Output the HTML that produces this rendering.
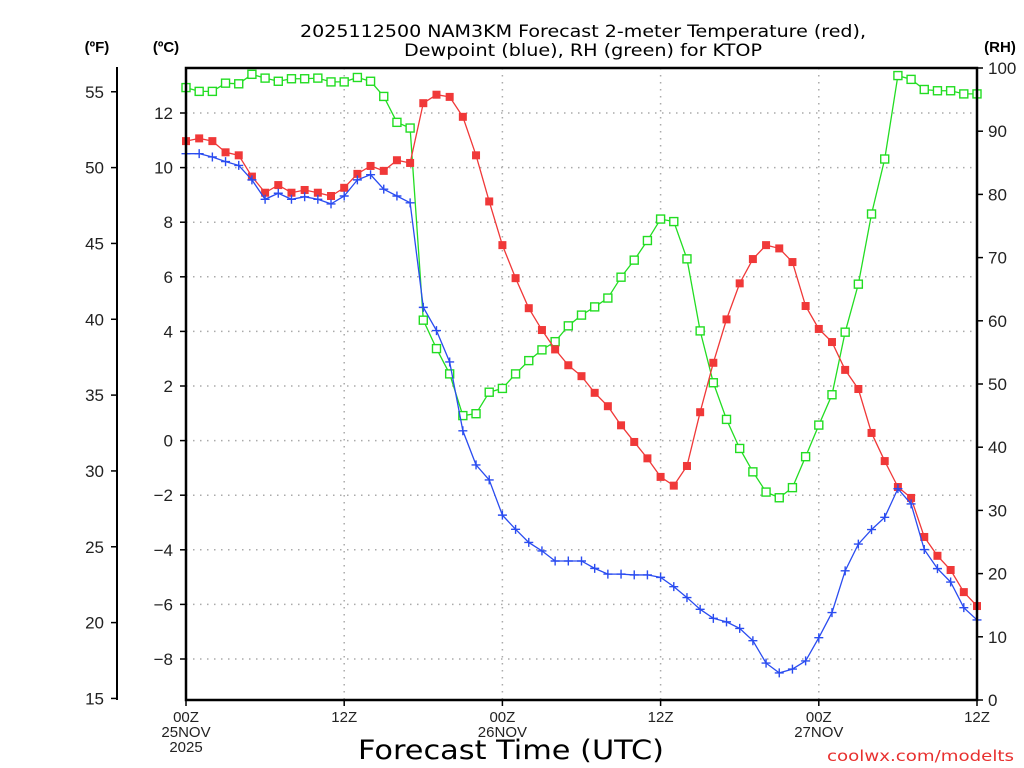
<!DOCTYPE html>
<html><head><meta charset="utf-8"><style>
body{margin:0;background:#fff;width:1024px;height:768px;overflow:hidden}
svg{display:block;font-family:"Liberation Sans","DejaVu Sans",sans-serif}
</style></head><body>
<svg id="chart" width="1024" height="768" viewBox="0 0 1024 768">
<text x="300" y="37" font-size="17" font-family="DejaVu Sans, sans-serif" textLength="566" lengthAdjust="spacingAndGlyphs">2025112500 NAM3KM Forecast 2-meter Temperature (red),</text>
<text x="404" y="56" font-size="17" font-family="DejaVu Sans, sans-serif" textLength="358" lengthAdjust="spacingAndGlyphs">Dewpoint (blue), RH (green) for KTOP</text>
<text x="97" y="52" text-anchor="middle" font-size="15" font-weight="bold">(ºF)</text>
<text x="166" y="52" text-anchor="middle" font-size="15" font-weight="bold">(ºC)</text>
<text x="1000" y="52" text-anchor="middle" font-size="15" font-weight="bold">(RH)</text>
<text x="358" y="759" font-size="27" font-family="DejaVu Sans, sans-serif" textLength="306" lengthAdjust="spacingAndGlyphs">Forecast Time (UTC)</text>
<text x="827" y="761" font-size="15" fill="#e8302f" font-family="DejaVu Sans, sans-serif" textLength="187" lengthAdjust="spacingAndGlyphs">coolwx.com/modelts</text>
<g id="grid"></g><g id="series"></g><g id="axes"></g>
</svg>
<script>
const hours = Array.from({length:61},(_,i)=>i);
const tempC = [10.97,11.07,10.97,10.56,10.45,9.67,9.08,9.36,9.08,9.18,9.08,8.96,9.26,9.77,10.06,9.88,10.27,10.17,12.36,12.67,12.59,11.86,10.45,8.76,7.16,5.95,4.85,4.05,3.34,2.76,2.36,1.75,1.26,0.56,-0.05,-0.65,-1.33,-1.65,-0.93,1.04,2.85,4.44,5.76,6.65,7.16,7.04,6.54,4.93,4.09,3.61,2.59,1.89,0.28,-0.75,-1.70,-2.10,-3.53,-4.22,-4.74,-5.55,-6.06];
const dewC = [10.51,10.51,10.39,10.22,10.08,9.55,8.84,9.06,8.84,8.93,8.84,8.67,8.96,9.55,9.74,9.21,8.96,8.71,4.88,4.03,2.88,0.36,-0.89,-1.44,-2.73,-3.25,-3.73,-4.04,-4.41,-4.41,-4.41,-4.68,-4.89,-4.89,-4.92,-4.92,-5.01,-5.35,-5.75,-6.18,-6.51,-6.64,-6.88,-7.33,-8.15,-8.51,-8.37,-8.07,-7.22,-6.30,-4.77,-3.79,-3.26,-2.81,-1.76,-2.32,-3.99,-4.69,-5.18,-6.12,-6.57];
const rh = [96.9,96.3,96.3,97.6,97.5,99.0,98.4,97.9,98.3,98.3,98.4,97.8,97.8,98.5,97.9,95.5,91.4,90.5,60.1,55.6,51.6,45.0,45.3,48.7,49.3,51.6,53.7,55.4,56.7,59.2,60.9,62.2,63.6,66.9,69.6,72.7,76.1,75.7,69.8,58.4,50.2,44.4,39.8,36.1,32.9,32.0,33.6,38.5,43.5,48.3,58.2,65.8,76.9,85.6,98.8,98.2,96.6,96.4,96.4,95.9,95.9];
const cTicks = [-8,-6,-4,-2,0,2,4,6,8,10,12];
const fTicks = [15,20,25,30,35,40,45,50,55];
const rhTicks = [0,10,20,30,40,50,60,70,80,90,100];
const xTickHours = [0,12,24,36,48,60];
const xTickLabels = [["00Z","25NOV","2025"],["12Z"],["00Z","26NOV"],["12Z"],["00Z","27NOV"],["12Z"]];

const L=186,R=977,T=68,B=700;
const x = h => L + (R-L)*h/60;
const yC = c => 440.6 - 27.3*c;
const yF = f => yC((f-32)*5/9);
const yRH = r => B - (B-T)*r/100;
const NS="http://www.w3.org/2000/svg";
function mk(tag, attrs, parent, txt){
  const e=document.createElementNS(NS,tag);
  for(const k in attrs) e.setAttribute(k,attrs[k]);
  if(txt!==undefined) e.textContent=txt;
  parent.appendChild(e); return e;
}
const grid=document.getElementById('grid'), ser=document.getElementById('series'), ax=document.getElementById('axes');

cTicks.forEach(c=>{
  const g=mk('line',{x1:L,x2:R,y1:yC(c),y2:yC(c),stroke:'#aaa','stroke-width':1.5,'stroke-dasharray':'1.5 5.5'},grid);
  
  
});
xTickHours.forEach(h=>{
  if(h===0||h===60) return;
  const g=mk('line',{x1:x(h),x2:x(h),y1:T,y2:B,stroke:'#aaa','stroke-width':1.5,'stroke-dasharray':'1.5 5.5'},grid);
  
  
});

function series(vals, yf, color, marker, name){
  const pts=vals.map((v,i)=>x(hours[i])+','+yf(v)).join(' ');
  const pl=mk('polyline',{points:pts,fill:'none',stroke:color,'stroke-width':1.3},ser);
  
  
  vals.forEach((v,i)=>{
    const cx=x(hours[i]), cy=yf(v);
    let m;
    if(marker==='filled') m=mk('rect',{x:cx-4,y:cy-4,width:8,height:8,fill:color},ser);
    else if(marker==='open') m=mk('rect',{x:cx-4,y:cy-4,width:8,height:8,fill:'#fff',stroke:color,'stroke-width':1.4},ser);
    else m=mk('path',{d:`M${cx-4.5} ${cy}H${cx+4.5}M${cx} ${cy-4.5}V${cy+4.5}`,stroke:color,'stroke-width':1.4},ser);
    
    
  });
}
series(rh, yRH, '#22dd22', 'open', 'rh');
series(tempC, yC, '#f03838', 'filled', 'temperature');
series(dewC, yC, '#2a4cf0', 'plus', 'dewpoint');

const frame=mk('path',{d:`M${L} ${T}H${R}V${B}H${L}Z`,fill:'none',stroke:'#000','stroke-width':2.5},ax);


const fAx=mk('line',{x1:117,x2:117,y1:67,y2:B,stroke:'#000','stroke-width':2},ax);


fTicks.forEach(f=>{
  const y=yF(f);
  mk('line',{x1:111,x2:117,y1:y,y2:y,stroke:'#000','stroke-width':1.5},ax);
  const t=mk('text',{x:104,y:y+6,'text-anchor':'end','font-size':17,fill:'#222'},ax,String(f));
  
  
});
cTicks.forEach(c=>{
  const y=yC(c);
  mk('line',{x1:180,x2:L,y1:y,y2:y,stroke:'#000','stroke-width':1.5},ax);
  const t=mk('text',{x:173,y:y+6,'text-anchor':'end','font-size':17,fill:'#222'},ax,c<0?'\u2212'+(-c):String(c));
  
  
});
rhTicks.forEach(r=>{
  const y=yRH(r);
  mk('line',{x1:R,x2:R+6,y1:y,y2:y,stroke:'#000','stroke-width':1.5},ax);
  const t=mk('text',{x:988,y:y+6,'text-anchor':'start','font-size':17,fill:'#222'},ax,String(r));
  
  
});
xTickHours.forEach((h,i)=>{
  mk('line',{x1:x(h),x2:x(h),y1:B,y2:B+6,stroke:'#000','stroke-width':1.5},ax);
  xTickLabels[i].forEach((s,j)=>{
    const t=mk('text',{x:x(h),y:722+j*15,'text-anchor':'middle','font-size':15,fill:'#222'},ax,s);
    
    
  });
});
</script>
</body></html>
